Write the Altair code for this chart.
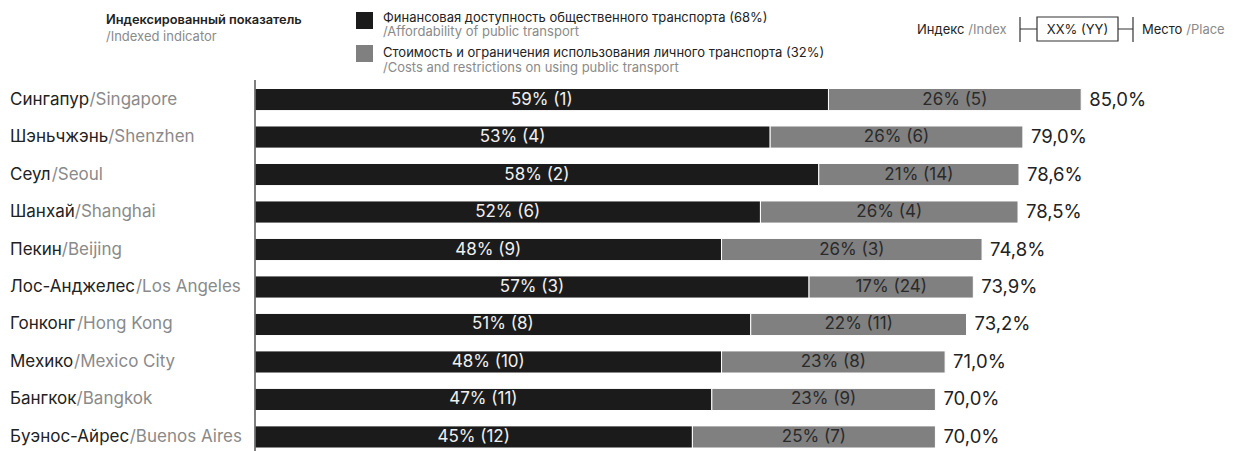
import os
import struct
import altair as alt
import pandas as pd

# ---------------- data ----------------
cities_ru = ["Сингапур", "Шэньчжэнь", "Сеул", "Шанхай", "Пекин",
             "Лос-Анджелес", "Гонконг", "Мехико", "Бангкок", "Буэнос-Айрес"]
cities_en = ["Singapore", "Shenzhen", "Seoul", "Shanghai", "Beijing",
             "Los Angeles", "Hong Kong", "Mexico City", "Bangkok", "Buenos Aires"]
afford = [59, 53, 58, 52, 48, 57, 51, 48, 47, 45]
afford_rank = [1, 4, 2, 6, 9, 3, 8, 10, 11, 12]
costs = [26, 26, 21, 26, 26, 17, 22, 23, 23, 25]
costs_rank = [5, 6, 14, 4, 3, 24, 11, 8, 9, 7]
totals = [85.0, 79.0, 78.6, 78.5, 74.8, 73.9, 73.2, 71.0, 70.0, 70.0]

# ---------------- layout ----------------
OX, OY = 255, 80          # plot origin on the page
W, H = 972, 371
FONT = "Inter"
BLACK = "#1b1b1b"
GREY = "#808080"
TXT = "#222222"
TXT_GREY = "#8a8a8a"


# ---- text width measurement from the installed font file (for two-colour labels) ----
def _parse_font(path):
    data = open(path, "rb").read()
    off = 0
    if data[:4] == b"ttcf":
        off = struct.unpack(">I", data[12:16])[0]
    num = struct.unpack(">H", data[off + 4:off + 6])[0]
    tables = {}
    for i in range(num):
        rec = off + 12 + 16 * i
        t = data[rec:rec + 4].decode("latin1")
        _, o, l = struct.unpack(">III", data[rec + 4:rec + 16])
        tables[t] = o
    head = tables["head"]
    upem = struct.unpack(">H", data[head + 18:head + 20])[0]
    hhea = tables["hhea"]
    nhm = struct.unpack(">H", data[hhea + 34:hhea + 36])[0]
    hm = tables["hmtx"]
    adv = [struct.unpack(">H", data[hm + 4 * i:hm + 4 * i + 2])[0] for i in range(nhm)]
    cm = tables["cmap"]
    n = struct.unpack(">H", data[cm + 2:cm + 4])[0]
    sub = None
    for i in range(n):
        pid, eid, so = struct.unpack(">HHI", data[cm + 4 + 8 * i:cm + 12 + 8 * i])
        fmt = struct.unpack(">H", data[cm + so:cm + so + 2])[0]
        if fmt == 4:
            sub = cm + so
            if (pid, eid) == (3, 1):
                break
    segx2 = struct.unpack(">H", data[sub + 6:sub + 8])[0]
    seg = segx2 // 2
    ends = struct.unpack(">%dH" % seg, data[sub + 14:sub + 14 + segx2])
    starts = struct.unpack(">%dH" % seg, data[sub + 16 + segx2:sub + 16 + 2 * segx2])
    deltas = struct.unpack(">%dh" % seg, data[sub + 16 + 2 * segx2:sub + 16 + 3 * segx2])
    rpos = sub + 16 + 3 * segx2
    roffs = struct.unpack(">%dH" % seg, data[rpos:rpos + segx2])

    def gid(cp):
        for i in range(seg):
            if ends[i] >= cp:
                if starts[i] > cp:
                    return 0
                if roffs[i] == 0:
                    return (cp + deltas[i]) & 0xFFFF
                a = rpos + 2 * i + roffs[i] + 2 * (cp - starts[i])
                g = struct.unpack(">H", data[a:a + 2])[0]
                return (g + deltas[i]) & 0xFFFF if g else 0
        return 0

    def width(s, size):
        return sum(adv[min(gid(ord(c)), nhm - 1)] for c in s) * size / upem
    return width


def _find_font(prefix):
    cands = []
    for root in ["/usr/share/fonts", "/usr/local/share/fonts",
                 os.path.expanduser("~/.fonts"), os.path.expanduser("~/.local/share/fonts")]:
        for dp, _, files in os.walk(root):
            for f in files:
                fl = f.lower()
                if not fl.startswith(prefix) or not fl.endswith((".ttf", ".otf")):
                    continue
                if "italic" in fl or "display" in fl:
                    continue
                score = 0 if "regular" in fl else (1 if ("wght" in fl or "variable" in fl or fl in (prefix + ".ttf", prefix + ".otf")) else 5)
                cands.append((score, os.path.join(dp, f)))
    for _, p in sorted(cands):
        try:
            return _parse_font(p)
        except Exception:
            continue
    return None


_w = _find_font("inter")
if _w is None:
    def _w(s, size):
        return len(s) * 0.6 * size


LAB_SIZE = 17

bars = []
for i, c in enumerate(cities_ru):
    bars.append(dict(city=c, seg="a", start=0, end=afford[i]))
    bars.append(dict(city=c, seg="b", start=afford[i], end=totals[i]))
bars = pd.DataFrame(bars)

lab = pd.DataFrame(dict(
    city=cities_ru,
    ru=cities_ru,
    en=["/" + e for e in cities_en],
    en_x=[10 - OX + _w(r, LAB_SIZE) for r in cities_ru],
    a_mid=[a / 2 for a in afford],
    a_text=[f"{a}% ({r})" for a, r in zip(afford, afford_rank)],
    c_mid=[a + (t - a) / 2 for a, t in zip(afford, totals)],
    c_text=[f"{c}% ({r})" for c, r in zip(costs, costs_rank)],
    total=totals,
    total_text=[f"{t:.1f}".replace(".", ",") + "%" for t in totals],
))

yenc = alt.Y("city:N", sort=cities_ru,
             scale=alt.Scale(paddingInner=0.41, paddingOuter=0, range=[8.5, 368]),
             axis=None)
xscale = alt.Scale(domain=[0, 100], nice=False)

bar_layer = alt.Chart(bars).mark_bar(stroke="white", strokeWidth=1).encode(
    x=alt.X("start:Q", scale=xscale, axis=None),
    x2="end:Q",
    y=yenc,
    color=alt.Color("seg:N", scale=alt.Scale(domain=["a", "b"], range=[BLACK, GREY]), legend=None),
)

base = alt.Chart(lab)
a_txt = base.mark_text(font=FONT, fontSize=17, color="#f0f0f0").encode(
    x=alt.X("a_mid:Q", scale=xscale, axis=None), y=yenc, text="a_text:N")
c_txt = base.mark_text(font=FONT, fontSize=17, color="#2a2a2a").encode(
    x=alt.X("c_mid:Q", scale=xscale, axis=None), y=yenc, text="c_text:N")
t_txt = base.mark_text(font=FONT, fontSize=18.5, color=TXT, align="left", dx=8).encode(
    x=alt.X("total:Q", scale=xscale, axis=None), y=yenc, text="total_text:N")
ru_lab = base.mark_text(font=FONT, fontSize=LAB_SIZE, color=TXT, align="left").encode(
    x=alt.value(10 - OX), y=yenc, text="ru:N")
en_lab = base.mark_text(font=FONT, fontSize=LAB_SIZE, color=TXT_GREY, align="left").encode(
    x=alt.X("en_x:Q", scale=None, axis=None), y=yenc, text="en:N")

one = pd.DataFrame({"d": [0]})


def txt(s, x, y, size=12, color=TXT, align="left", weight="normal"):
    return alt.Chart(one).mark_text(text=s, font=FONT, fontSize=size, color=color,
                                    align=align, baseline="middle", fontWeight=weight).encode(
        x=alt.value(x - OX), y=alt.value(y - OY))


def box(x1, x2, y1, y2, fill, stroke=None, sw=0):
    kw = dict(fill=fill)
    if stroke:
        kw.update(stroke=stroke, strokeWidth=sw)
    return alt.Chart(one).mark_rect(**kw).encode(
        x=alt.value(x1 - OX), x2=alt.value(x2 - OX),
        y=alt.value(y1 - OY), y2=alt.value(y2 - OY))


def rule(x1, x2, y1, y2, color="#333333", sw=1.2):
    return alt.Chart(one).mark_rule(color=color, strokeWidth=sw).encode(
        x=alt.value(x1 - OX), x2=alt.value(x2 - OX),
        y=alt.value(y1 - OY), y2=alt.value(y2 - OY))


LS = 13
legend = [
    rule(OX, OX, OY, OY + H, "#555555", 1.5),
    txt("Индексированный показатель", 106, 20, 12.8, TXT, weight=600),
    txt("/Indexed indicator", 106, 37, LS, TXT_GREY),
    box(356, 373, 12, 29, BLACK),
    txt("Финансовая доступность общественного транспорта (68%)", 383, 17.5, LS, TXT),
    txt("/Affordability of public transport", 383, 31.5, LS, TXT_GREY),
    box(356, 373, 45, 62, GREY),
    txt("Стоимость и ограничения использования личного транспорта (32%)", 383, 53, LS, TXT),
    txt("/Costs and restrictions on using public transport", 383, 68, LS, TXT_GREY),
    txt("Индекс", 917, 30, LS, TXT),
    txt("/Index", 917 + _w("Индекс ", LS), 30, LS, TXT_GREY),
    rule(1020, 1133, 29, 29),
    rule(1020, 1020, 17, 42),
    rule(1133, 1133, 17, 42),
    box(1037, 1118, 17, 41, "white", "#333333", 1.2),
    txt("XX% (YY)", 1077.5, 29.5, LS, TXT, align="center"),
    txt("Место", 1142, 30, LS, TXT),
    txt("/Place", 1142 + _w("Место ", LS), 30, LS, TXT_GREY),
]

chart = alt.layer(bar_layer, a_txt, c_txt, t_txt, ru_lab, en_lab, *legend).resolve_scale(
    x="independent"
).properties(
    width=W, height=H,
    autosize=alt.AutoSizeParams(type="none"),
    padding={"left": OX, "top": OY, "right": 1239 - OX - W, "bottom": 0},
    background="white",
).configure_view(stroke=None)

chart.save("out.html", embed_options={"renderer": "svg", "actions": False})
